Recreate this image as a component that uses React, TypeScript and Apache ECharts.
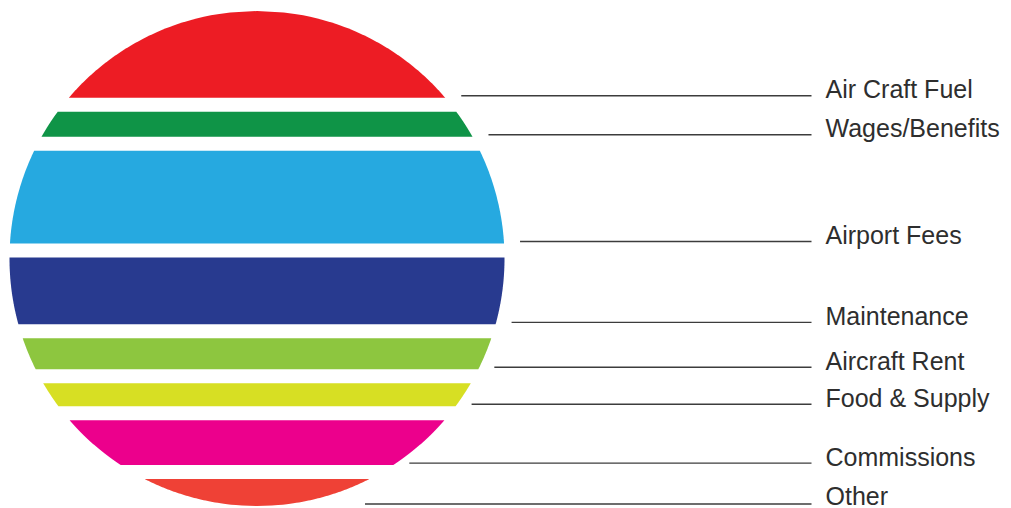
import React, { useEffect, useRef } from "react";
import * as echarts from "echarts";

const categories = [
  "Air Craft Fuel",
  "Wages/Benefits",
  "Airport Fees",
  "Maintenance",
  "Aircraft Rent",
  "Food & Supply",
  "Commissions",
  "Other",
];
const values = [87, 25, 93, 67, 31, 23, 45, 27];
const colors = [
  "#ED1C24",
  "#0F9447",
  "#26A9E0",
  "#283A8F",
  "#8DC63F",
  "#D7DF23",
  "#EC008C",
  "#EF4136",
];
const GAP = 14;

export default function App() {
  const ref = useRef<HTMLDivElement>(null);

  useEffect(() => {
    if (!ref.current) return;
    const chart = echarts.init(ref.current, undefined, { renderer: "svg" });

    const total = values.reduce((a, b) => a + b, 0) + GAP * (values.length - 1);
    const data: number[][] = [];
    let acc = 0;
    values.forEach((v, i) => {
      data.push([acc, acc + v, i]);
      acc += v + GAP;
    });

    const renderItem = (params: any, api: any) => {
      const cs = params.coordSys;
      const cx = cs.x + cs.width / 2;
      const cy = cs.y + cs.height / 2;
      const R = cs.height / 2;
      const idx = api.value(2);
      const y0 = api.coord([0, api.value(0)])[1];
      const y1 = api.coord([0, api.value(1)])[1];
      const edge = (y: number) => {
        const d = Math.min(R, Math.abs(y - cy));
        return Math.sqrt(Math.max(0, R * R - d * d));
      };
      const steps = 60;
      const right: number[][] = [];
      const left: number[][] = [];
      for (let s = 0; s <= steps; s++) {
        const y = y0 + ((y1 - y0) * s) / steps;
        const w = edge(y);
        right.push([cx + w, y]);
        left.push([cx - w, y]);
      }
      const points = right.concat(left.reverse());

      const lineY = y1 - 2;
      const labelX = cs.x + cs.width + 321;
      const lineEnd = labelX - 14;
      const lineStart = Math.max(cx + edge(y1) + 16, cx + 108);
      const textBottom = Math.min(lineY + 6, cs.y + cs.height + 2);

      return {
        type: "group",
        children: [
          {
            type: "polygon",
            shape: { points },
            style: { fill: colors[idx] },
          },
          {
            type: "line",
            shape: { x1: lineStart, y1: lineY, x2: lineEnd, y2: lineY },
            style: { stroke: "#3c3c3c", lineWidth: 1.4 },
          },
          {
            type: "text",
            x: labelX,
            y: textBottom,
            style: {
              text: categories[idx],
              fontSize: 25,
              fontFamily: "Liberation Sans",
              fontWeight: "normal",
              fill: "#2e2e2e",
              textAlign: "left",
              textVerticalAlign: "bottom",
            },
          },
        ],
      };
    };

    chart.setOption({
      animation: false,
      grid: { left: 9.5, top: 11, width: 495, height: 495 },
      xAxis: { type: "value", min: -1, max: 1, show: false },
      yAxis: { type: "value", min: 0, max: total, inverse: true, show: false },
      series: [
        {
          type: "custom",
          renderItem,
          data,
          clip: false,
          encode: { x: -1, y: [0, 1] },
        },
      ],
    });

    return () => chart.dispose();
  }, []);

  return (
    <div
      ref={ref}
      style={{ position: "absolute", left: 0, top: 0, width: 1011, height: 508 }}
    />
  );
}
